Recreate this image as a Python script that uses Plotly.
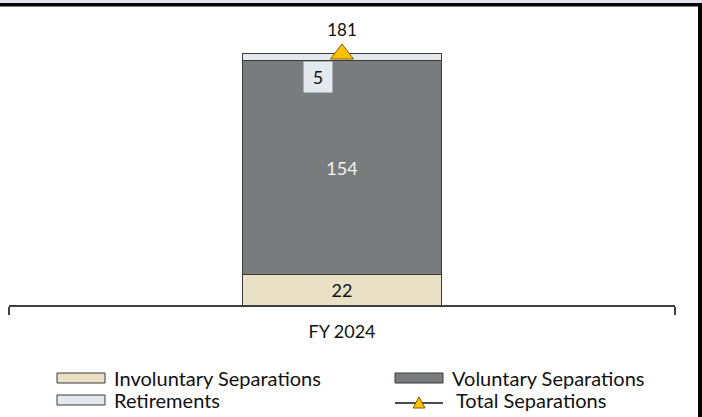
import plotly.graph_objects as go

# --- data ---
categories = ["FY 2024"]
involuntary = [22]
voluntary = [154]
retirements = [5]
total = [181]

series_names = ["Involuntary Separations", "Voluntary Separations", "Retirements", "Total Separations"]

# --- styling ---
FONT = "Lato"
C_INV = "#e9e0c5"
C_VOL = "#797c7c"
C_RET = "#e4e8ef"
C_TOT = "#ffc000"
C_EDGE = "#3a3a3a"

W, H = 702, 417
L, R, T, B = 9, 27, 10, 112
PW, PH = W - L - R, H - T - B


def px_x(p):
    # pixel -> paper x
    return (p - L) / PW


def px_y(p):
    # pixel -> paper y
    return (T + PH - p) / PH


fig = go.Figure()

fig.add_trace(go.Bar(
    x=categories, y=involuntary, name=series_names[0],
    marker=dict(color=C_INV, line=dict(color=C_EDGE, width=1)),
    text=[str(v) for v in involuntary], textposition="inside", insidetextanchor="middle",
    textfont=dict(family=FONT, size=18, color="#111111"),
))
fig.add_trace(go.Bar(
    x=categories, y=voluntary, name=series_names[1],
    marker=dict(color=C_VOL, line=dict(color=C_EDGE, width=1)),
    text=[str(v) for v in voluntary], textposition="inside", insidetextanchor="middle",
    textfont=dict(family=FONT, size=18, color="#f2f2f2"),
))
fig.add_trace(go.Bar(
    x=categories, y=retirements, name=series_names[2],
    marker=dict(color=C_RET, line=dict(color=C_EDGE, width=1)),
))
fig.add_trace(go.Scatter(
    x=categories, y=total, name=series_names[3], mode="markers+text",
    marker=dict(symbol="triangle-up", size=20, color=C_TOT, line=dict(color="#7f6000", width=1)),
    text=[str(v) for v in total], textposition="top center",
    textfont=dict(family=FONT, size=17, color="#111111"),
    cliponaxis=False,
))

# retirements label sits in its own small box, left of the marker
for c, inv, vol, ret in zip(categories, involuntary, voluntary, retirements):
    fig.add_annotation(
        x=c, y=inv + vol, yanchor="top", xshift=-24, showarrow=False,
        text=str(ret), width=26, height=28, bgcolor=C_RET,
        font=dict(family=FONT, size=18, color="#111111"),
    )

shapes = []
# frame bits: light strip + black rule on top, black bar on the right
shapes.append(dict(type="rect", xref="paper", yref="paper", x0=px_x(-5), x1=px_x(707),
                   y0=px_y(3), y1=px_y(-5), fillcolor="#dfe4ec", line_width=0, layer="above"))
shapes.append(dict(type="rect", xref="paper", yref="paper", x0=px_x(-5), x1=px_x(707),
                   y0=px_y(6.5), y1=px_y(3), fillcolor="black", line_width=0, layer="above"))
shapes.append(dict(type="rect", xref="paper", yref="paper", x0=px_x(698), x1=px_x(707),
                   y0=px_y(425), y1=px_y(3), fillcolor="black", line_width=0, layer="above"))

# --- manual legend (wide swatches like the original) ---
legend_items = [
    (series_names[0], "box", C_INV, 57, 378),
    (series_names[1], "box", C_VOL, 395, 378),
    (series_names[2], "box", C_RET, 57, 400),
    (series_names[3], "line", C_TOT, 395, 400),
]
for label, kind, color, x0, yc in legend_items:
    if kind == "box":
        shapes.append(dict(type="rect", xref="paper", yref="paper",
                           x0=px_x(x0), x1=px_x(x0 + 48), y0=px_y(yc + 5), y1=px_y(yc - 5),
                           fillcolor=color, line=dict(color=C_EDGE, width=1)))
        tx = x0 + 55
    else:
        shapes.append(dict(type="line", xref="paper", yref="paper",
                           x0=px_x(x0), x1=px_x(x0 + 48), y0=px_y(yc + 3), y1=px_y(yc + 3),
                           line=dict(color="#111111", width=1.5)))
        cx = x0 + 24
        path = "M {} {} L {} {} L {} {} Z".format(
            px_x(cx - 6), px_y(yc + 8), px_x(cx + 6), px_y(yc + 8), px_x(cx), px_y(yc - 3))
        shapes.append(dict(type="path", xref="paper", yref="paper", path=path,
                           fillcolor=color, line=dict(color="#7f6000", width=1)))
        tx = x0 + 59
    fig.add_annotation(
        x=px_x(tx), y=px_y(yc), xref="paper", yref="paper", xanchor="left", yanchor="middle",
        text=label, showarrow=False, font=dict(family=FONT, size=20, color="#111111"),
    )

fig.update_layout(
    width=W, height=H, autosize=False,
    margin=dict(l=L, r=R, t=T, b=B),
    barmode="stack", bargap=0.7,
    showlegend=False,
    plot_bgcolor="white", paper_bgcolor="white",
    font=dict(family=FONT, size=18, color="#111111"),
    shapes=shapes,
)
fig.update_xaxes(
    range=[-0.5, 0.5], showline=True, linecolor="#3f3f3f", linewidth=1.5,
    ticks="outside", tickson="boundaries", ticklen=8, tickcolor="#3f3f3f", tickwidth=1.5,
    tickfont=dict(family=FONT, size=18, color="#111111"), ticklabelstandoff=10,
    showgrid=False, zeroline=False,
)
fig.update_yaxes(range=[0, 212.7], visible=False, showgrid=False, zeroline=False)

# page body has a default 8px margin; drop it so the figure sits at the window corner
fig.write_html("out.html", config={"displayModeBar": False},
               post_script="document.body.style.margin='0';")
